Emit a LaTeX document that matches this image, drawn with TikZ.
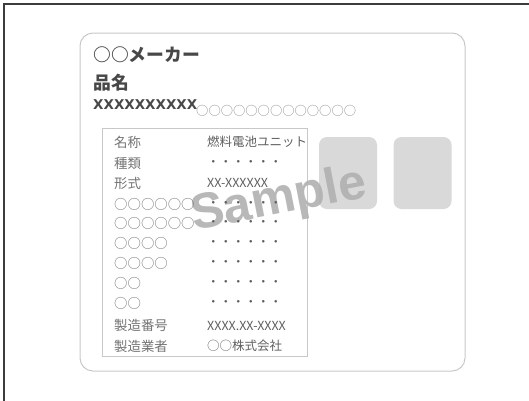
\documentclass[tikz,border=0pt]{standalone}
\usepackage{fontspec}
\usepackage{tikz}
\usetikzlibrary{positioning}
\newfontfamily\jpfont{Noto Sans CJK JP}
\newfontfamily\xfont{DejaVu Sans}
\newfontfamily\stampfont{Liberation Sans}
\definecolor{framegray}{RGB}{60, 60, 60}
\definecolor{cardgray}{RGB}{200, 200, 200}
\definecolor{padgray}{RGB}{217, 217, 217}
\definecolor{headgray}{RGB}{72, 72, 72}
\definecolor{labelgray}{RGB}{115, 115, 115}
\definecolor{valuegray}{RGB}{95, 95, 95}
\definecolor{stampgray}{RGB}{176, 176, 176}

\tikzset{
  headtext/.style={anchor=west, inner sep=0pt, text=headgray, font=\jpfont\bfseries\fontsize{17.8}{20}\selectfont},
  labeltext/.style={anchor=west, inner sep=0pt, text=labelgray, font=\jpfont\fontsize{13.4}{15}\selectfont},
  valuetext/.style={anchor=west, inner sep=0pt, text=valuegray, font=\jpfont\fontsize{12.5}{15}\selectfont},
  padbox/.style={fill=padgray, rounded corners=8pt, minimum width=58pt, minimum height=72pt, inner sep=0pt}
}

\begin{document}
\begin{tikzpicture}[x=1pt, y=-1pt]
  \useasboundingbox (0,0) rectangle (529,400);
  % outer frame
  \draw[framegray, line width=1.3pt] (4,401) -- (4,4) -- (530,4);
  % card
  \draw[cardgray, line width=1pt, rounded corners=13pt] (80,33) rectangle (465,371);
  % header
  \node[headtext] (maker) at (93,54.5) {○○メーカー};
  \node[headtext] (hinmei) at (93,83) {品名};
  \node[anchor=west, inner sep=0pt, text=headgray, font=\xfont\bfseries\fontsize{13.5}{16}\selectfont] (code) at (93,104.5) {XXXXXXXXXX};
  \node[anchor=west, inner sep=0pt, text=labelgray!80, font=\jpfont\fontsize{12.3}{14}\selectfont] (codenote) at (196,111) {○○○○○○○○○○○○○};
  % table box
  \draw[cardgray, line width=1pt] (102,128) rectangle (307,356);
  % pads
  \node[padbox] (pad1) at (348,173) {};
  \node[padbox] (pad2) at (422.5,173) {};
  % watermark
  \node[text=stampgray, opacity=0.9, rotate=11, font=\stampfont\bfseries\fontsize{50}{52}\selectfont] (stamp) at (279,201) {Sample};
  % rows
  \foreach \y/\lab/\val [count=\i] in {
      142/名称/燃料電池ユニット, 163/種類/・・・・・・, 183/形式/XX-XXXXXX,
      204/○○○○○○/・・・・・・, 223.5/○○○○○○/・・・・・・, 243/○○○○/・・・・・・,
      263/○○○○/・・・・・・, 283/○○/・・・・・・, 303/○○/・・・・・・,
      325.5/製造番号/XXXX.XX-XXXX, 346/製造業者/○○株式会社} {
    \node[labeltext] (lab\i) at (114,\y) {\lab};
    \node[valuetext] (val\i) at (207,\y) {\val};
  }
\end{tikzpicture}
\end{document}
